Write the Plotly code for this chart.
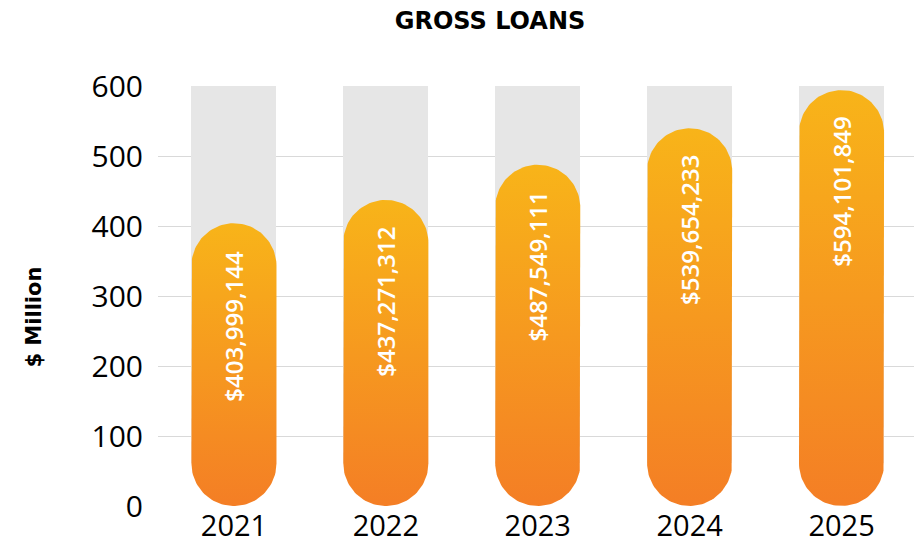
import numpy as np
import plotly.graph_objects as go

# Gross loans by year ($ million)
years = ["2021", "2022", "2023", "2024", "2025"]
loans = [403.999144, 437.271312, 487.549111, 539.654233, 594.101849]
labels = ["$403,999,144", "$437,271,312", "$487,549,111", "$539,654,233", "$594,101,849"]
y_ticks = [0, 100, 200, 300, 400, 500, 600]

# Figure geometry
W, H = 914, 544
M_L, M_R, M_T, M_B = 157.5, 0, 86, 38
X_MIN, X_MAX = -0.5, 4.477
Y_MIN, Y_MAX = 0, 600
BAR_W = 0.56  # bar width in category units

plot_w = W - M_L - M_R
plot_h = H - M_T - M_B
px_per_x = plot_w / (X_MAX - X_MIN)
px_per_y = plot_h / (Y_MAX - Y_MIN)

half_w = BAR_W / 2
# radius of the rounded ends, expressed in y-axis units so the caps stay circular
r_y = half_w * px_per_x / px_per_y

TOP_COLOR = "#F8B419"
BOTTOM_COLOR = "#F47E25"
TRACK_COLOR = "#E6E6E6"
FONT = "Open Sans"
BOLD_FONT = "DejaVu Sans"

fig = go.Figure()

# Grey background track behind each pill
x_idx = list(range(len(years)))
fig.add_trace(go.Bar(
    x=x_idx,
    y=[Y_MAX - r_y] * len(years),
    base=[r_y] * len(years),
    width=BAR_W,
    marker=dict(color=TRACK_COLOR, line=dict(width=0)),
    hoverinfo="skip",
    showlegend=False,
))


def pill(xc, top):
    """Outline of a vertical capsule from 0 to `top`, centred on xc."""
    n = 60
    t_top = np.linspace(np.pi, 0, n)
    t_bot = np.linspace(0, -np.pi, n)
    xs = np.concatenate([
        [xc - half_w],
        xc + half_w * np.cos(t_top),
        xc + half_w * np.cos(t_bot),
    ])
    ys = np.concatenate([
        [r_y],
        (top - r_y) + r_y * np.sin(t_top),
        r_y + r_y * np.sin(t_bot),
    ])
    return xs, ys


for i, v in enumerate(loans):
    xs, ys = pill(i, v)
    fig.add_trace(go.Scatter(
        x=xs, y=ys,
        mode="lines",
        line=dict(width=0, color=BOTTOM_COLOR),
        fill="toself",
        fillgradient=dict(
            type="vertical",
            colorscale=[[0, BOTTOM_COLOR], [1, TOP_COLOR]],
        ),
        hoverinfo="skip",
        showlegend=False,
    ))
    fig.add_annotation(
        x=i, y=v,
        text=labels[i],
        textangle=-90,
        showarrow=False,
        xanchor="center", yanchor="top",
        yshift=-25,
        font=dict(family=FONT, size=24, weight=600, color="white"),
    )

# Vertical axis title
fig.add_annotation(
    xref="paper", yref="paper",
    x=(33 - M_L) / plot_w,
    y=(H - M_B - 317) / plot_h,
    text="<b>$ Million</b>",
    textangle=-90,
    showarrow=False,
    xanchor="center", yanchor="middle",
    font=dict(family=BOLD_FONT, size=21, color="black"),
)

fig.update_layout(
    width=W, height=H,
    margin=dict(l=M_L, r=M_R, t=M_T, b=M_B, pad=0, autoexpand=False),
    paper_bgcolor="white",
    plot_bgcolor="white",
    title=dict(
        text="<b>GROSS LOANS</b>",
        xref="container", yref="container",
        x=490 / W, y=1 - 21 / H,
        xanchor="center", yanchor="middle",
        font=dict(family=BOLD_FONT, size=24, color="black"),
    ),
    xaxis=dict(
        range=[X_MIN, X_MAX],
        tickvals=x_idx,
        ticktext=years,
        showgrid=False,
        zeroline=False,
        showline=False,
        ticks="",
        automargin=False,
        ticklabelstandoff=0,
        tickfont=dict(family=FONT, size=29, color="black"),
        fixedrange=True,
    ),
    yaxis=dict(
        range=[Y_MIN, Y_MAX],
        tickvals=y_ticks,
        showgrid=True,
        gridcolor="#D9D9D9",
        gridwidth=1,
        zeroline=False,
        showline=False,
        ticks="",
        automargin=False,
        ticklabelstandoff=14,
        tickfont=dict(family=FONT, size=30, color="black"),
        fixedrange=True,
    ),
    bargap=0,
)

fig.write_html("out.html")
